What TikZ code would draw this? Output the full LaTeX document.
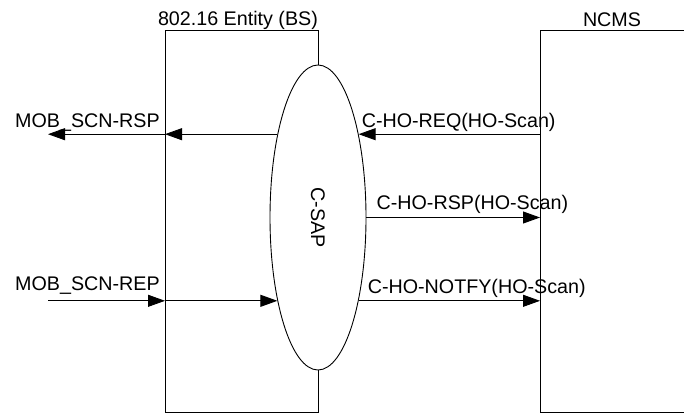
\documentclass[tikz,border=0pt]{standalone}
\usepackage{fontspec}
\setmainfont{Liberation Sans}
\usetikzlibrary{arrows.meta,positioning,calc,shapes.geometric}

\begin{document}
\begin{tikzpicture}[
    x=1pt, y=-1pt,
    font=\fontsize{19.7}{23}\selectfont,
    entity/.style={
        rectangle, draw, line width=0.9pt, inner sep=0pt,
        minimum height=382pt, anchor=north west
    },
    sap/.style={
        ellipse, draw, fill=white, line width=0.9pt, inner sep=0pt,
        minimum width=96pt, minimum height=305pt
    },
    title/.style={inner sep=0pt, anchor=base},
    lbl/.style={inner sep=0pt, anchor=base west},
    msg/.style={-{Triangle[length=17pt,width=12pt]}, line width=0.9pt},
]
\useasboundingbox (0,0) rectangle (684,415);

% Entities
\node[entity, minimum width=153pt] (bs) at (165,30) {};
\node[entity, minimum width=150pt] (ncms) at (540,30) {};
\node[title] (bstitle) at ([xshift=-4pt,yshift=5pt]bs.north) {802.16 Entity (BS)};
\node[title] (ncmstitle) at ([yshift=4pt]540+72,30) {NCMS};
\node[sap] (csap) at (318,217.5) {\rotatebox{-90}{C-SAP}};

% Free ends
\coordinate (outer) at (48,0);
\coordinate (textx) at (15,0);

% BS side
\draw[msg] (csap.116) -- (bs.west |- csap.116);
\draw[msg] (bs.west |- csap.116) -- (outer |- csap.116);
\draw[msg] (outer |- csap.244) -- (bs.west |- csap.244);
\draw[msg] (bs.west |- csap.244) -- (csap.244);

\node[lbl] (rsplbl) at ($(textx |- csap.116)+(0,-7)$) {MOB\_SCN-RSP};
\node[lbl] (replbl) at ($(textx |- csap.244)+(0,-10)$) {MOB\_SCN-REP};

% NCMS side
\draw[msg] (ncms.west |- csap.64) -- (csap.64);
\draw[msg] (csap.east) -- (ncms.west |- csap.east);
\draw[msg] (csap.296) -- (ncms.west |- csap.296);

\node[lbl] (reqlbl) at ($(csap.64)+(3,-7)$) {C-HO-REQ(HO-Scan)};
\node[lbl] (rsp2lbl) at ($(csap.east)+(10,-8)$) {C-HO-RSP(HO-Scan)};
\node[lbl] (notfylbl) at ($(csap.296)+(9,-7)$) {C-HO-NOTFY(HO-Scan)};
\end{tikzpicture}
\end{document}
